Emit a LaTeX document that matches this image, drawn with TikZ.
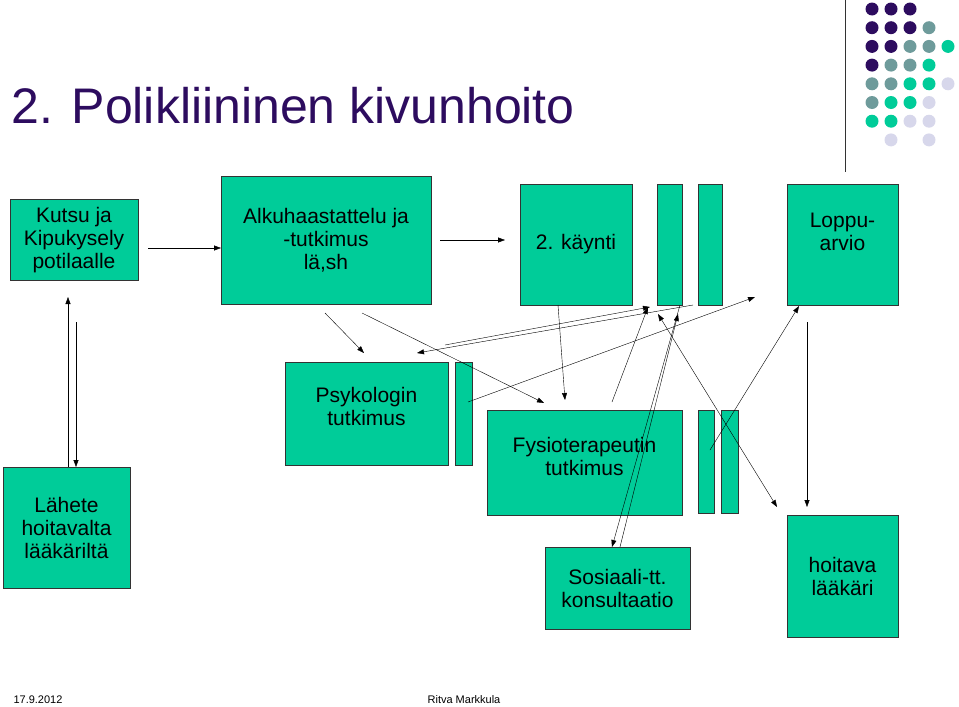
\documentclass[tikz,border=0pt]{standalone}
\usepackage{fontspec}
\setmainfont{Liberation Sans}
\usetikzlibrary{positioning, arrows.meta}
\definecolor{boxteal}{RGB}{0,204,153}
\definecolor{titlepurple}{RGB}{45,12,95}
\definecolor{dotgrey}{RGB}{110,155,155}
\definecolor{dotlav}{RGB}{215,215,235}

\begin{document}
\begin{tikzpicture}[
  x=1pt, y=-1pt,
  every node/.style={font=\fontsize{21}{23}\selectfont},
  box/.style={rectangle, draw=black!80, fill=boxteal, inner sep=0pt, align=center},
  bar/.style={rectangle, draw=black!80, fill=boxteal, inner sep=0pt, minimum width=#1},
  dot/.style={circle, fill=#1, inner sep=0pt, minimum size=13pt},
  >={Triangle[length=7pt,width=5pt]}, thin
]
\useasboundingbox (0,0) rectangle (959,707);

\node[anchor=west, text=titlepurple, font=\fontsize{50}{52}\selectfont] (title) at (8,106) {2. Polikliininen kivunhoito};
\draw[black!80, thick] (845,0) -- (845,172);

% dots
\foreach \row/\cols in {0/{1/titlepurple,2/titlepurple,3/titlepurple},
  1/{1/titlepurple,2/titlepurple,3/titlepurple,4/dotgrey},
  2/{1/titlepurple,2/titlepurple,3/dotgrey,4/dotgrey,5/boxteal},
  3/{1/titlepurple,2/dotgrey,3/dotgrey,4/boxteal},
  4/{1/dotgrey,2/dotgrey,3/boxteal,4/boxteal,5/dotlav},
  5/{1/dotgrey,2/boxteal,3/boxteal,4/dotlav},
  6/{1/boxteal,2/boxteal,3/dotlav,4/dotlav},
  7/{2/dotlav,4/dotlav}}
  \foreach \c/\col in \cols
    \node[dot=\col] at ({853+19*\c},{9+18.7*\row}) {};

% boxes
\node[box, minimum width=128pt, minimum height=81pt] (kutsu) at (74,240) {Kutsu ja\\Kipukysely\\potilaalle};
\node[box, minimum width=210pt, minimum height=128pt] (alku) at (326,240) {Alkuhaastattelu ja\\-tutkimus\\lä,sh};
\node[box, minimum width=112pt, minimum height=121pt] (kaynti) at (576,244.5) {2. käynti};
\node[bar=25pt, minimum height=121pt] (bara) at (669.5,244.5) {};
\node[bar=24pt, minimum height=121pt] (barb) at (710,244.5) {};
\node[box, minimum width=111pt, minimum height=121pt,
  label={[anchor=north, align=center, yshift=-26pt]north:Loppu-\\arvio}] (loppu) at (842.5,244.5) {};
\node[box, minimum width=127pt, minimum height=121pt] (lahete) at (66.5,527.5) {Lähete\\hoitavalta\\lääkäriltä};
\node[box, minimum width=163pt, minimum height=103pt,
  label={[anchor=north, align=center, yshift=-22pt]north:Psykologin\\tutkimus}] (psyk) at (366.5,413.5) {};
\node[bar=17pt, minimum height=103pt] (barc) at (463.5,413.5) {};
\node[box, minimum width=195pt, minimum height=105pt,
  label={[anchor=north, align=center, yshift=-24pt]north:Fysioterapeutin\\tutkimus}] (fysio) at (584.5,462.5) {};
\node[bar=16pt, minimum height=103pt] (bard) at (706,461.5) {};
\node[bar=17pt, minimum height=103pt] (bare) at (729.5,461.5) {};
\node[box, minimum width=145pt, minimum height=82pt] (sosi) at (617.5,588) {Sosiaali-tt.\\konsultaatio};
\node[box, minimum width=111pt, minimum height=122pt] (hoit) at (842.5,576) {hoitava\\lääkäri};

% arrows
\draw[->] (68,467) -- (68,297);
\draw[->] (76,322) -- (76,467);
\draw[->] (148,248) -- (221,248);
\draw[->] (440,240) -- (505,240);
\draw[->] (325,313) -- (364,353);
\draw[->] (362,313) -- (544,403);
\draw[->] (558,305) -- (565,400);
\draw[->] (693,305) -- (417,353);
\draw[->] (445,345) -- (650,307);
\draw[->] (468,402) -- (755,297);
\draw[->] (612,402) -- (648,307);
\draw[->] (680,305) -- (612,547);
\draw[->] (620,547) -- (678,314);
\draw[<->] (658,314) -- (777,507);
\draw[->] (710,450) -- (799,306);
\draw[->] (807,322) -- (807,507);

\node[anchor=west, font=\fontsize{11}{12}\selectfont] (date) at (10,700) {17.9.2012};
\node[font=\fontsize{11}{12}\selectfont] (auth) at (464,700) {Ritva Markkula};
\end{tikzpicture}
\end{document}
